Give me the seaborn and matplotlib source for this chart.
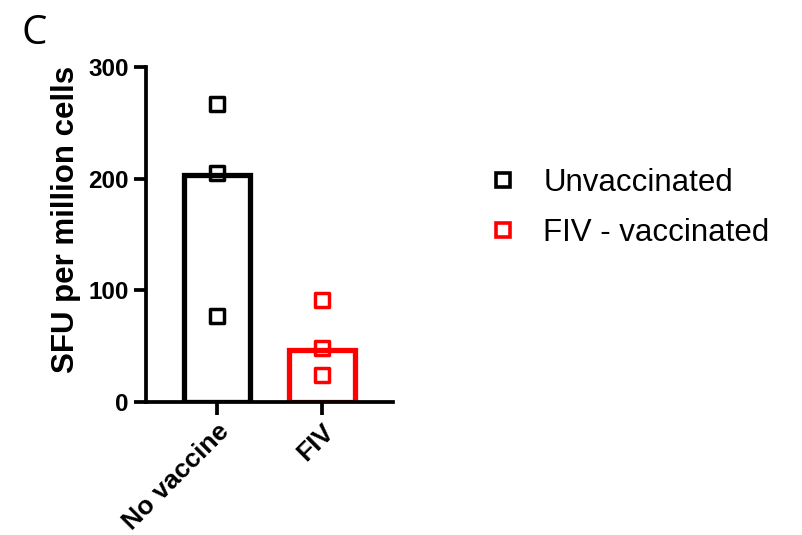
import matplotlib
matplotlib.use("Agg")
import matplotlib.pyplot as plt
from matplotlib.lines import Line2D
import pandas as pd
import seaborn as sns

# data
groups = ["No vaccine", "FIV"]
bar_heights = [203, 46]
no_vaccine_points = [267, 205, 77]
fiv_points = [91, 48, 24]
legend_labels = ["Unvaccinated", "FIV - vaccinated"]
colors = ["#000000", "#FF0000"]

bars = pd.DataFrame({"group": groups, "value": bar_heights})
points = pd.DataFrame({
    "group": [groups[0]] * len(no_vaccine_points) + [groups[1]] * len(fiv_points),
    "value": no_vaccine_points + fiv_points,
})

sns.set_style("ticks", {"axes.edgecolor": "black", "text.color": "black",
                        "xtick.color": "black", "ytick.color": "black",
                        "axes.labelcolor": "black"})
plt.rcParams["font.family"] = ["Liberation Sans", "DejaVu Sans"]

fig = plt.figure(figsize=(8.02, 5.35), dpi=100)
ax = fig.add_axes([0.182, 0.249, 0.308, 0.626])

sns.barplot(data=bars, x="group", y="value", hue="group", order=groups,
            palette=colors, fill=False, width=0.63, linewidth=3.8,
            legend=False, ax=ax, errorbar=None)

sns.stripplot(data=points, x="group", y="value", hue="group", order=groups,
              palette=colors, jitter=False, marker="s", size=10,
              legend=False, ax=ax)
# make markers hollow
for coll in ax.collections:
    fc = coll.get_facecolors()
    coll.set_edgecolors(fc)
    coll.set_facecolors("none")
    coll.set_linewidth(2.5)

ax.set_xlim(-0.676, 1.676)
ax.set_ylim(0, 300)
ax.set_yticks([0, 100, 200, 300])
ax.set_xlabel("")
ax.set_ylabel("SFU per million cells", fontsize=22.5, fontweight="bold")
ax.yaxis.set_label_coords(-0.265, 0.545)
sns.despine(ax=ax)
for s in ["left", "bottom"]:
    ax.spines[s].set_linewidth(2.7)
ax.tick_params(axis="both", width=2.7, length=9, labelsize=17.5)
for lab in ax.get_yticklabels():
    lab.set_fontweight("bold")
for lab in ax.get_xticklabels():
    lab.set_fontweight("bold")
    lab.set_fontsize(19)
    lab.set_rotation(45)
    lab.set_ha("right")
    lab.set_rotation_mode("anchor")

handles = [Line2D([], [], linestyle="none", marker="s", markersize=10,
                  markerfacecolor="none", markeredgecolor=c, markeredgewidth=2.6)
           for c in colors]
fig.legend(handles, legend_labels, loc="upper left", bbox_to_anchor=(0.573, 0.738),
           frameon=False, fontsize=22.5, handletextpad=0.78, labelspacing=0.64,
           handlelength=1.0)

fig.text(0.027, 0.975, "C", fontsize=29, family="Open Sans", va="top", ha="left")

fig.savefig("out.png", dpi=100)
